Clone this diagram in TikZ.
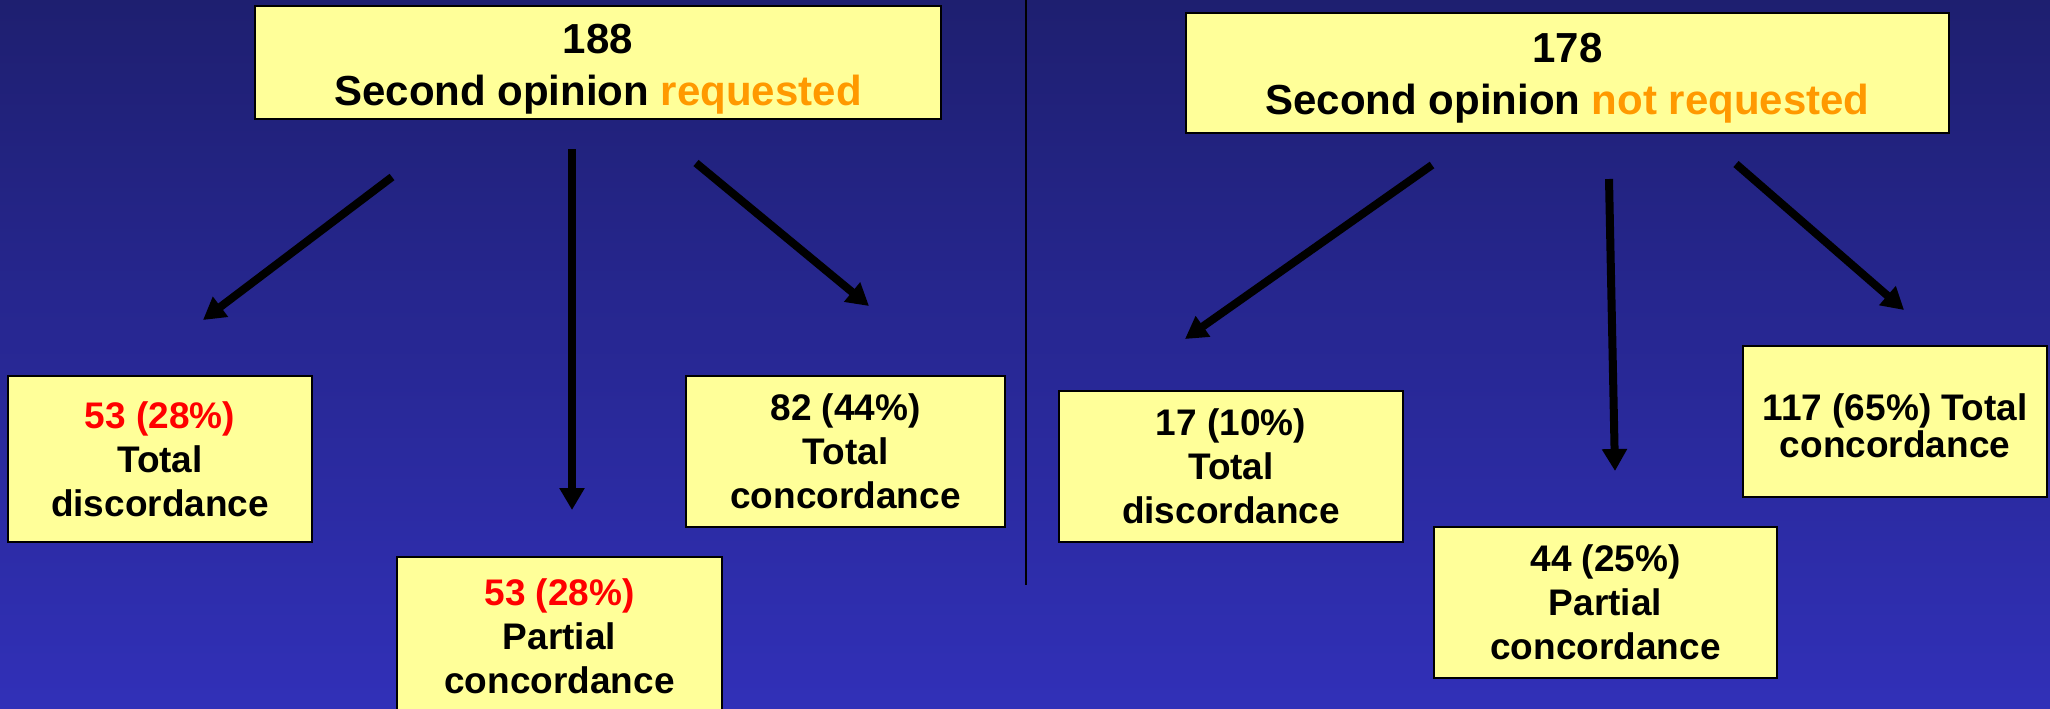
\documentclass[tikz,border=0pt]{standalone}
\usepackage{fontspec}
\setmainfont{Liberation Sans}
\usetikzlibrary{arrows.meta}
\definecolor{bgtop}{RGB}{30,31,112}
\definecolor{bgbot}{RGB}{49,48,184}
\definecolor{boxfill}{RGB}{255,255,153}
\definecolor{orangetxt}{RGB}{255,153,0}
\definecolor{redtxt}{RGB}{255,0,0}
\tikzset{
  panel/.style={draw=black, line width=1.2pt, fill=boxfill, inner sep=0pt},
  toptext/.style={inner sep=0pt, align=center, font=\fontsize{21}{26}\selectfont\bfseries},
  resbox/.style={draw=black, line width=1.2pt, fill=boxfill, inner sep=0pt, align=center,
    font=\fontsize{18.5}{22}\selectfont\bfseries},
  arr/.style={line width=4pt, black, -{Triangle[length=11pt,width=12pt]}},
  divider/.style={line width=1pt, black}
}
\begin{document}
\begin{tikzpicture}[x=0.5pt,y=-0.5pt]
\useasboundingbox (0,0) rectangle (2050,708);
\clip (0,0) rectangle (2050,708);
\shade[top color=bgtop, bottom color=bgbot] (0,0) rectangle (2050,708);

% divider
\coordinate (dtop) at (1026,0);
\coordinate (dbot) at (1026,585);
\draw[divider] (dtop) -- (dbot);

% left tree
\node[panel, minimum width=343pt, minimum height=56.5pt] (ltop) at (598,62.5) {};
\node[toptext] (ltoptxt) at ([yshift=-3.5pt]ltop.center)
  {188\\Second opinion \textcolor{orangetxt}{requested}};
\node[resbox, minimum width=152pt, minimum height=83pt] (lb1) at (160,459)
  {\textcolor{redtxt}{53 (28\%)}\\Total\\discordance};
\node[resbox, minimum width=162.5pt, minimum height=79pt] (lb2) at (559.5,636)
  {\textcolor{redtxt}{53 (28\%)}\\Partial\\concordance};
\node[resbox, minimum width=159.5pt, minimum height=75.5pt] (lb3) at (845.5,451.5)
  {82 (44\%)\\Total\\concordance};

\coordinate (l1s) at (392,177);
\coordinate (l1e) at (203,320);
\coordinate (l2s) at (572,149);
\coordinate (l2e) at (572,510);
\coordinate (l3s) at (696,163);
\coordinate (l3e) at (869,306);
\draw[arr] (l1s) -- (l1e);
\draw[arr] (l2s) -- (l2e);
\draw[arr] (l3s) -- (l3e);

% right tree
\node[panel, minimum width=381.5pt, minimum height=59.75pt] (rtop) at (1567.5,73) {};
\node[toptext] (rtoptxt) at ([yshift=-2.5pt]rtop.center)
  {178\\Second opinion \textcolor{orangetxt}{not requested}};
\node[resbox, minimum width=172pt, minimum height=75.5pt] (rb1) at (1231,466.5)
  {17 (10\%)\\Total\\discordance};
\node[resbox, minimum width=171.5pt, minimum height=75.5pt] (rb2) at (1605.5,602.5)
  {44 (25\%)\\Partial\\concordance};
\node[panel, minimum width=152pt, minimum height=75.5pt] (rb3) at (1895,421.5) {};
\node[inner sep=0pt, align=center, font=\fontsize{18.5}{18.5}\selectfont\bfseries]
  (rb3txt) at ([yshift=-2pt]rb3.center) {117 (65\%) Total\\concordance};

\coordinate (r1s) at (1432,165);
\coordinate (r1e) at (1185,339);
\coordinate (r2s) at (1609,179);
\coordinate (r2e) at (1615,471);
\coordinate (r3s) at (1736,164);
\coordinate (r3e) at (1904,310);
\draw[arr] (r1s) -- (r1e);
\draw[arr] (r2s) -- (r2e);
\draw[arr] (r3s) -- (r3e);
\end{tikzpicture}
\end{document}
